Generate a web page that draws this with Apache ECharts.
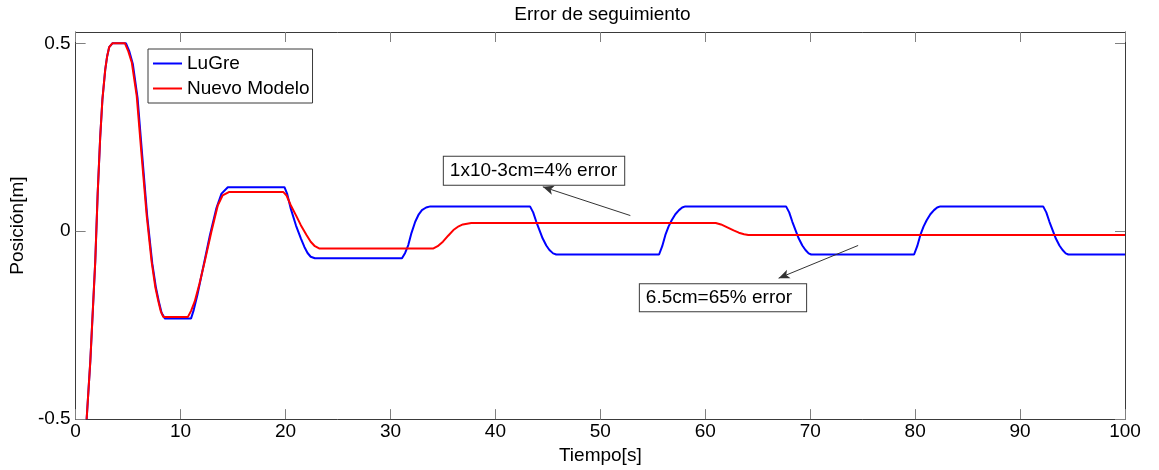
<!DOCTYPE html>
<html>
<head>
<meta charset="utf-8">
<script src="https://cdn.jsdelivr.net/npm/echarts@6/dist/echarts.min.js"></script>
<style>
html,body{margin:0;padding:0;background:#fff;}
#chart{width:1159px;height:470px;}
</style>
</head>
<body>
<div id="chart"></div>
<script>
// ---- data ----
var titleText = 'Error de seguimiento';
var xName = 'Tiempo[s]';
var yName = 'Posición[m]';
var seriesNames = ['LuGre', 'Nuevo Modelo'];
var xTicks = [0, 10, 20, 30, 40, 50, 60, 70, 80, 90, 100];
var yTicks = [-0.5, 0, 0.5];

// LuGre [t, position]
var lugre = [
  [1.05,-0.5],[1.4,-0.345],[1.87,-0.08],[2.1,0.1],[2.34,0.25],[2.55,0.35],[2.82,0.43],[3.0,0.465],[3.2,0.49],[3.5,0.5],
  [4.8,0.5],[5.1,0.48],[5.45,0.445],[5.9,0.355],[6.35,0.2],[6.82,0.04],[7.3,-0.085],
  [7.65,-0.15],[7.95,-0.19],[8.2,-0.218],[8.5,-0.232],
  [11.0,-0.232],[11.25,-0.21],[11.6,-0.17],[12.2,-0.09],[12.8,-0.01],[13.4,0.06],[13.9,0.1],[14.5,0.117],
  [19.9,0.117],[20.15,0.1],[20.5,0.06],[21.0,0.015],[21.46,-0.019],[21.8,-0.042],[22.1,-0.058],[22.4,-0.068],[22.8,-0.072],
  [31.1,-0.072],[31.4,-0.058],[31.7,-0.037],[32.0,-0.005],[32.36,0.025],[32.7,0.045],[33.0,0.056],[33.4,0.063],[33.8,0.066],
  [43.3,0.066],[43.6,0.05],[43.9,0.025],[44.2,0.003],[44.5,-0.019],[44.85,-0.038],[45.15,-0.05],[45.5,-0.059],[45.8,-0.062],
  [55.6,-0.062],[55.9,-0.04],[56.2,-0.01],[56.5,0.012],[56.8,0.029],[57.15,0.045],[57.5,0.056],[57.8,0.063],[58.1,0.066],
  [67.7,0.066],[68.0,0.05],[68.3,0.025],[68.6,0.003],[68.9,-0.019],[69.25,-0.038],[69.55,-0.05],[69.85,-0.059],[70.1,-0.062],
  [79.9,-0.062],[80.2,-0.04],[80.5,-0.01],[80.8,0.012],[81.1,0.029],[81.45,0.045],[81.8,0.056],[82.1,0.063],[82.4,0.066],
  [92.2,0.066],[92.5,0.05],[92.8,0.025],[93.1,0.003],[93.4,-0.019],[93.75,-0.038],[94.05,-0.05],[94.35,-0.059],[94.6,-0.062],
  [100,-0.062]
];

// Nuevo Modelo [t, position]
var nuevo = [
  [1.05,-0.5],[1.4,-0.345],[1.87,-0.08],[2.1,0.1],[2.34,0.25],[2.55,0.35],[2.82,0.43],[3.0,0.465],[3.2,0.49],[3.5,0.5],
  [4.7,0.5],[5.0,0.48],[5.35,0.449],[5.82,0.36],[6.29,0.2],[6.77,0.042],[7.24,-0.081],
  [7.6,-0.15],[7.87,-0.185],[8.1,-0.212],[8.35,-0.228],
  [10.7,-0.228],[11.0,-0.212],[11.35,-0.187],[11.8,-0.14],[12.3,-0.081],[12.93,-0.002],[13.55,0.069],[14.0,0.095],[14.6,0.104],
  [19.8,0.104],[20.1,0.095],[20.5,0.069],[21.0,0.042],[21.46,0.016],[22.0,-0.01],[22.4,-0.028],[22.8,-0.04],[23.2,-0.046],
  [34.1,-0.046],[34.5,-0.04],[35.0,-0.028],[35.5,-0.012],[36.0,0.003],[36.5,0.013],[36.9,0.018],[37.7,0.022],
  [61.0,0.022],[61.5,0.018],[62.2,0.009],[62.7,0.002],[63.2,-0.004],[63.7,-0.008],[64.1,-0.01],
  [100,-0.01]
];

// annotations (data coordinates)
var noteTexts = ['1x10-3cm=4% error', '6.5cm=65% error'];
var noteAnchors = [[35.04, 0.1607], [53.72, -0.177]];
var arrowStarts = [[52.86, 0.0416], [74.57, -0.038]];
var arrowEnds = [[44.52, 0.118], [66.99, -0.125]];

// ---- chart ----
var FONT = 'Liberation Sans, Arial, Helvetica, sans-serif';
var frameColor = '#3a3a3a';
var tickColor = '#808080';
var notePaddings = [[5, 7, 4, 6], [4, 14, 4, 6]];

var chart = echarts.init(document.getElementById('chart'), null, {renderer: 'canvas'});

var option = {
  animation: false,
  backgroundColor: '#ffffff',
  textStyle: {fontFamily: FONT},
  title: {
    text: titleText,
    left: 597.5,
    textAlign: 'center',
    top: 0,
    textStyle: {fontFamily: FONT, fontSize: 19, fontWeight: 'normal', color: '#000'}
  },
  legend: {
    data: seriesNames,
    orient: 'vertical',
    left: 148,
    top: 49,
    padding: [5, 3, 5, 5],
    itemGap: 6,
    itemWidth: 29,
    itemHeight: 2,
    icon: 'rect',
    backgroundColor: '#fff',
    borderColor: frameColor,
    borderWidth: 1,
    borderRadius: 0,
    textStyle: {fontFamily: FONT, fontSize: 19, color: '#000'}
  },
  grid: {left: 70, right: 34, top: 32, bottom: 49, containLabel: false},
  xAxis: [
    {
      type: 'value', min: 0, max: 100, interval: 10, position: 'bottom',
      name: xName, nameLocation: 'middle', nameGap: 25,
      nameTextStyle: {fontFamily: FONT, fontSize: 19, color: '#000'},
      axisLine: {show: true, onZero: false, lineStyle: {color: frameColor, width: 1}},
      axisTick: {show: true, inside: true, length: 10, lineStyle: {color: tickColor}},
      axisLabel: {show: true, margin: 3, fontFamily: FONT, fontSize: 19, color: '#000'},
      splitLine: {show: false}
    },
    {
      type: 'value', min: 0, max: 100, interval: 10, position: 'top',
      axisLine: {show: true, onZero: false, lineStyle: {color: frameColor, width: 1}},
      axisTick: {show: true, inside: true, length: 10, lineStyle: {color: tickColor}},
      axisLabel: {show: false},
      splitLine: {show: false}
    }
  ],
  yAxis: [
    {
      type: 'value', min: -0.5, max: 0.53, position: 'left',
      name: yName, nameLocation: 'middle', nameGap: 43, nameRotate: 90,
      nameTextStyle: {fontFamily: FONT, fontSize: 19, color: '#000'},
      axisLine: {show: true, onZero: false, lineStyle: {color: frameColor, width: 1}},
      axisTick: {show: true, inside: true, length: 10, lineStyle: {color: tickColor},
        customValues: yTicks},
      axisLabel: {show: true, margin: 5, fontFamily: FONT, fontSize: 19, color: '#000',
        customValues: yTicks},
      splitLine: {show: false}
    },
    {
      type: 'value', min: -0.5, max: 0.53, position: 'right',
      axisLine: {show: true, onZero: false, lineStyle: {color: frameColor, width: 1}},
      axisTick: {show: true, inside: true, length: 10, lineStyle: {color: tickColor},
        customValues: yTicks},
      axisLabel: {show: false},
      splitLine: {show: false}
    }
  ],
  series: [
    {
      name: seriesNames[0], type: 'line', data: lugre,
      xAxisIndex: 0, yAxisIndex: 0,
      symbol: 'none', showSymbol: false, clip: true,
      lineStyle: {color: '#0000ff', width: 2},
      itemStyle: {color: '#0000ff'},
      z: 3
    },
    {
      name: seriesNames[1], type: 'line', data: nuevo,
      xAxisIndex: 0, yAxisIndex: 0,
      symbol: 'none', showSymbol: false, clip: true,
      lineStyle: {color: '#ff0000', width: 2},
      itemStyle: {color: '#ff0000'},
      z: 4
    },
    {
      name: 'annotations', type: 'line', data: [],
      xAxisIndex: 0, yAxisIndex: 0,
      silent: true, z: 6,
      markLine: {
        silent: true,
        animation: false,
        symbol: ['none', 'arrow'],
        symbolSize: [7, 11],
        label: {show: false},
        lineStyle: {color: '#333', width: 1, type: 'solid'},
        data: arrowStarts.map(function (s, i) {
          return [{coord: s}, {coord: arrowEnds[i]}];
        })
      },
      markPoint: {
        silent: true,
        animation: false,
        symbol: 'rect',
        symbolSize: 1,
        itemStyle: {color: 'rgba(0,0,0,0)'},
        label: {
          show: true,
          position: 'right',
          distance: 0,
          fontFamily: FONT,
          fontSize: 19,
          color: '#000',
          backgroundColor: '#fff',
          borderColor: frameColor,
          borderWidth: 1,
          formatter: function (p) { return p.name; }
        },
        data: noteTexts.map(function (t, i) {
          return {name: t, coord: noteAnchors[i], label: {padding: notePaddings[i]}};
        })
      }
    }
  ]
};

chart.setOption(option);
</script>
</body>
</html>
